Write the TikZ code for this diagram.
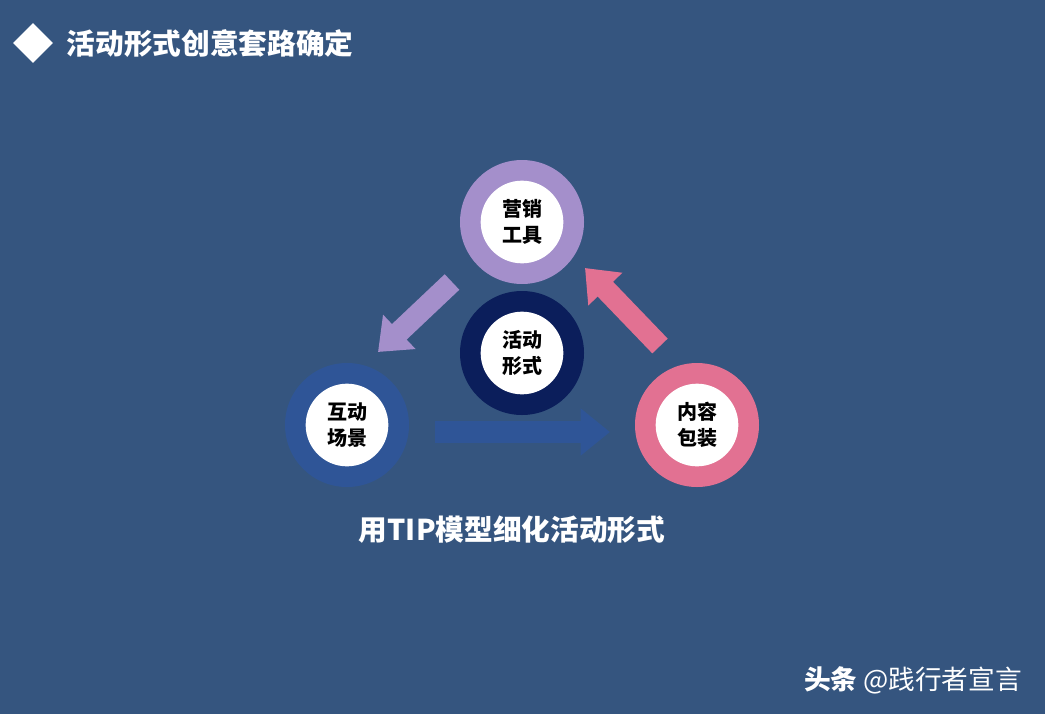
\documentclass[tikz,border=0pt]{standalone}
\usepackage{fontspec}
\newfontfamily\cjk{Noto Sans CJK SC}
\usetikzlibrary{arrows.meta,shapes.geometric}
\definecolor{bg}{HTML}{35557F}
\definecolor{lav}{HTML}{A48FCB}
\definecolor{navy}{HTML}{0B1E5B}
\definecolor{blu}{HTML}{2F5597}
\definecolor{pink}{HTML}{E27192}
\begin{document}
\begin{tikzpicture}[x=0.75pt,y=-0.75pt,
  ring/.style={circle,minimum size=93pt,inner sep=0pt},
  core/.style={circle,fill=white,minimum size=62pt,inner sep=0pt,font=\cjk\bfseries\fontsize{15}{19}\selectfont,align=center,text=black},
  blk/.style={line width=16pt,-{Triangle[length=22pt,width=34pt]}}]
\useasboundingbox[fill=bg] (0,0) rectangle (1045,714);
\node[diamond,fill=white,minimum size=30pt,inner sep=0pt] (dia) at (33,43) {};
\node[anchor=west,text=white,font=\cjk\bfseries\fontsize{21.5}{25}\selectfont] (title) at (62,44) {活动形式创意套路确定};
\node[ring,fill=lav] (tr) at (522,222) {};
\node[core] (t) at (522,222) {营销\\工具};
\node[ring,fill=navy] (cr) at (522,353) {};
\node[core] (c) at (522,353) {活动\\形式};
\node[ring,fill=blu] (lr) at (347,425) {};
\node[core] (l) at (347,425) {互动\\场景};
\node[ring,fill=pink] (rr) at (697,425) {};
\node[core] (r) at (697,425) {内容\\包装};
\coordinate (a1s) at (452,282); \coordinate (a1e) at (378,352);
\coordinate (a2s) at (660,346); \coordinate (a2e) at (585,268);
\coordinate (a3s) at (435,432); \coordinate (a3e) at (610,432);
\draw[blk,draw=lav,fill=lav] (a1s) -- (a1e);
\draw[blk,draw=pink,fill=pink] (a2s) -- (a2e);
\draw[blk,draw=blu,fill=blu] (a3s) -- (a3e);
\node[text=white,font=\cjk\bfseries\fontsize{21.5}{25}\selectfont] (cap) at (512,530) {用TIP模型细化活动形式};
\node[text=white,font=\cjk\fontsize{20}{24}\selectfont] (wm) at (913,680) {\textbf{头条} @践行者宣言};
\end{tikzpicture}
\end{document}
